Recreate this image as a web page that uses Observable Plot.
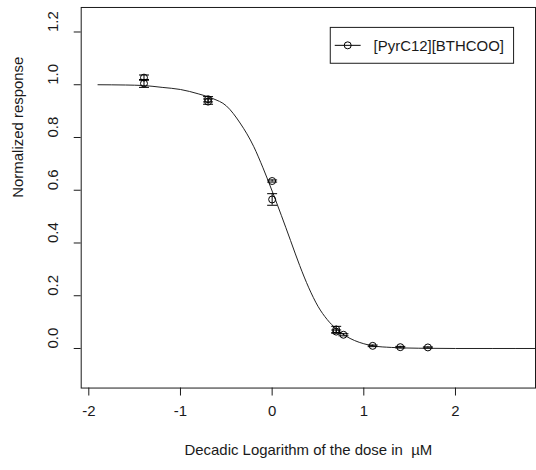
<!DOCTYPE html>
<html><head><meta charset="utf-8">
<script src="https://cdn.jsdelivr.net/npm/d3@7"></script>
<script src="https://cdn.jsdelivr.net/npm/@observablehq/plot@0.6"></script>
<style>
html,body{margin:0;padding:0;overflow:hidden;background:#fff;}
#chart{width:536px;height:470px;overflow:hidden;position:relative;}
</style></head><body><div id="chart"></div>
<script>
// measured points (log10 dose, normalized response, error)
const doseLog  = [-1.398, -1.398, -0.699, -0.699, 0, 0, 0.699, 0.699, 0.778, 1.097, 1.398, 1.699];
const response = [1.027, 1.005, 0.945, 0.936, 0.635, 0.565, 0.072, 0.064, 0.052, 0.010, 0.005, 0.004];
const errors   = [0.010, 0.015, 0.010, 0.010, 0.004, 0.022, 0.012, 0.006, 0.004, 0.003, 0.003, 0.002];
// fitted curve
const curveX = [-1.9, -1.6, -1.4, -1.2, -1.0, -0.8, -0.65, -0.5, -0.35, -0.2, -0.1, 0.0, 0.1, 0.2, 0.3, 0.4, 0.5, 0.6, 0.7, 0.8, 0.9, 1.0, 1.1, 1.3, 1.6, 2.0, 2.4, 2.9];
const curveY = [1.0, 0.999, 0.997, 0.99, 0.982, 0.965, 0.948, 0.92, 0.855, 0.765, 0.685, 0.597, 0.505, 0.41, 0.315, 0.23, 0.16, 0.11, 0.074, 0.048, 0.03, 0.018, 0.01, 0.004, 0.001, 0.0, 0.0, 0.0];
const xTicks = [-2, -1, 0, 1, 2];
const yTicks = [0, 0.2, 0.4, 0.6, 0.8, 1.0, 1.2];
const seriesName = "[PyrC12][BTHCOO]";
const xTitle = "Decadic Logarithm of the dose in  µM";
const yTitle = "Normalized response";

const rows = doseLog.map((x, i) => ({x, y: response[i], lo: response[i] - errors[i], hi: response[i] + errors[i]}));
const fit = curveX.map((x, i) => ({x, y: curveY[i]}));
const cap = {draw(ctx) { ctx.moveTo(-5, 0); ctx.lineTo(5, 0); }};
const ink = "#1a1a1a";
const font = "Liberation Sans, Arial, sans-serif";

const svg = Plot.plot({
  width: 538, height: 470,
  marginLeft: 81, marginRight: 1, marginTop: 7, marginBottom: 81,
  style: {fontFamily: font, fontSize: "15px", color: ink, background: "#fff", overflow: "visible"},
  x: {domain: [-2.083, 2.873]},
  y: {domain: [-0.15, 1.293]},
  marks: [
    Plot.line(fit, {x: "x", y: "y", curve: "monotone-x", stroke: "#222", strokeWidth: 1, clip: true}),
    Plot.ruleX(rows, {x: "x", y1: "lo", y2: "hi", stroke: "#000", strokeWidth: 1}),
    Plot.dot(rows, {x: "x", y: "lo", symbol: cap, stroke: "#000", strokeWidth: 1}),
    Plot.dot(rows, {x: "x", y: "hi", symbol: cap, stroke: "#000", strokeWidth: 1}),
    Plot.dot(rows, {x: "x", y: "y", r: 3.5, stroke: "#000", fill: "none", strokeWidth: 1}),
    Plot.axisY({ticks: yTicks, tickSize: 7, tickFormat: () => "", label: null, stroke: ink}),
    Plot.axisX({ticks: xTicks, tickSize: 8, tickFormat: () => "", label: null, stroke: ink}),
    Plot.text(yTicks, {y: d => d, text: d => d.toFixed(1), frameAnchor: "left", dx: -28, rotate: -90, fontSize: 15, fill: ink}),
    Plot.text(xTicks, {x: d => d, text: d => String(d), frameAnchor: "bottom", dy: 28, fontSize: 15, fill: ink}),
    Plot.text([xTitle], {text: d => d, frameAnchor: "bottom", dy: 67, fontSize: 15, fill: ink}),
    Plot.text([yTitle], {text: d => d, frameAnchor: "left", dx: -63, rotate: -90, fontSize: 15, fill: ink}),
    Plot.frame({stroke: ink, strokeWidth: 1})
  ]
});

// legend box inside the plot
const g = d3.select(svg).append("g");
g.append("rect").attr("x", 331.5).attr("y", 27.5).attr("width", 184).attr("height", 36)
  .attr("fill", "#fff").attr("stroke", ink);
g.append("line").attr("x1", 336).attr("x2", 362).attr("y1", 45.5).attr("y2", 45.5).attr("stroke", "#000");
g.append("circle").attr("cx", 349).attr("cy", 45.5).attr("r", 3.5).attr("fill", "none").attr("stroke", "#000");
g.append("text").attr("x", 375).attr("y", 45.5).attr("dy", "0.35em").attr("text-anchor", "start")
  .style("font-size", "15px").attr("font-family", font).attr("fill", ink).text(seriesName);

document.getElementById("chart").appendChild(svg);
</script></body></html>
